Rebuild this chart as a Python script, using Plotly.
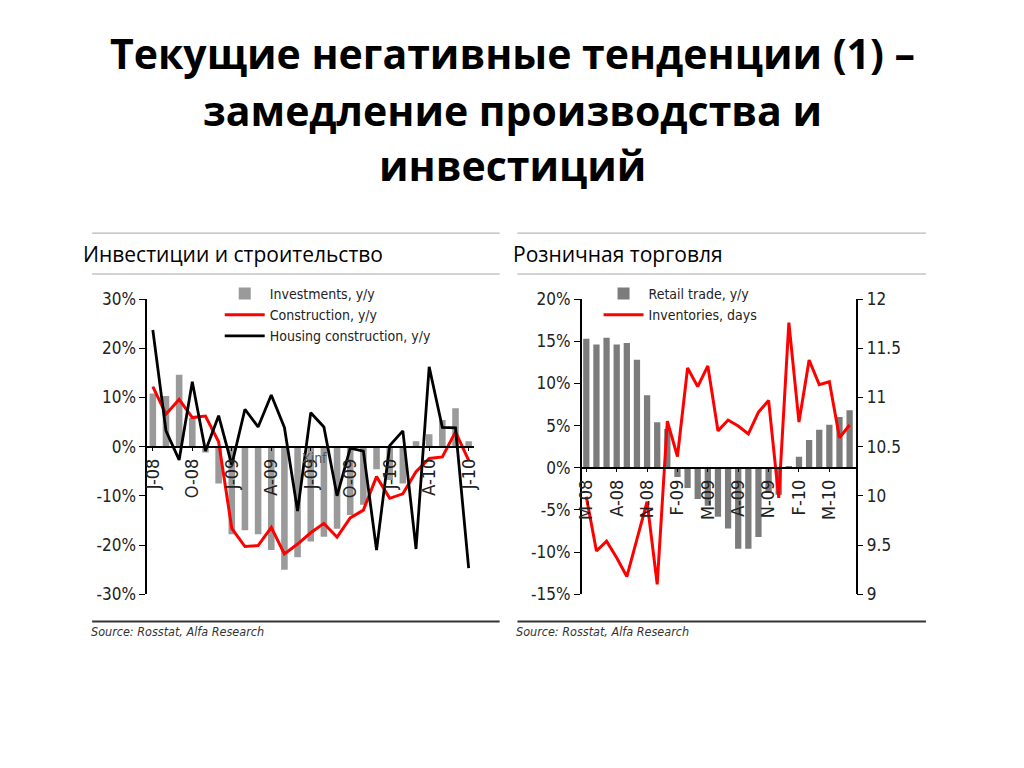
import plotly.graph_objects as go

# ---------------- data ----------------
left_months = ["Jul-08", "Aug-08", "Sep-08", "Oct-08", "Nov-08", "Dec-08",
               "Jan-09", "Feb-09", "Mar-09", "Apr-09", "May-09", "Jun-09",
               "Jul-09", "Aug-09", "Sep-09", "Oct-09", "Nov-09", "Dec-09",
               "Jan-10", "Feb-10", "Mar-10", "Apr-10", "May-10", "Jun-10", "Jul-10"]
investments = [10.8, 10.3, 14.6, 5.8, -1.2, -7.5, -17.8, -17.0, -17.8, -21.0, -25.0, -22.5,
               -19.3, -18.3, -16.7, -13.9, -11.8, -4.6, -6.8, -7.5, 1.1, 2.5, 5.4, 7.8, 1.1]
construction = [12.2, 6.6, 9.6, 5.9, 6.2, 1.0, -16.6, -20.3, -20.1, -16.4, -21.8, -19.8,
                -17.5, -15.6, -18.4, -14.5, -12.9, -6.1, -10.5, -9.6, -5.1, -2.4, -2.1, 3.0, -2.8]
housing = [23.7, 3.2, -2.7, 13.2, -0.9, 6.3, -3.7, 7.6, 4.0, 10.5, 3.9, -13.1,
           6.9, 4.0, -10.0, -0.3, -0.9, -21.0, 0.2, 3.2, -20.8, 16.2, 3.9, 3.8, -24.7]
left_tickvals = ["Jul-08", "Oct-08", "Jan-09", "Apr-09", "Jul-09", "Oct-09", "Jan-10", "Apr-10", "Jul-10"]
left_ticktext = ["J-08", "O-08", "J-09", "A-09", "J-09", "O-09", "J-10", "A-10", "J-10"]
left_yticks = [-30, -20, -10, 0, 10, 20, 30]

right_months = ["May-08", "Jun-08", "Jul-08", "Aug-08", "Sep-08", "Oct-08", "Nov-08", "Dec-08",
                "Jan-09", "Feb-09", "Mar-09", "Apr-09", "May-09", "Jun-09", "Jul-09", "Aug-09",
                "Sep-09", "Oct-09", "Nov-09", "Dec-09", "Jan-10", "Feb-10", "Mar-10", "Apr-10",
                "May-10", "Jun-10", "Jul-10"]
retail = [15.3, 14.6, 15.4, 14.6, 14.8, 12.8, 8.6, 5.4, 4.6, -1.1, -2.4, -3.7, -4.5, -5.8,
          -7.2, -9.6, -9.6, -8.2, -3.0, -3.2, 0.2, 1.3, 3.3, 4.5, 5.1, 6.0, 6.8]
inventories = [9.99, 9.44, 9.54, 9.37, 9.18, 9.55, 9.94, 9.10, 10.76, 10.40, 11.30, 11.11,
               11.32, 10.66, 10.77, 10.71, 10.63, 10.85, 10.97, 9.98, 11.76, 10.75, 11.38,
               11.13, 11.16, 10.59, 10.72]
right_tickvals = ["May-08", "Aug-08", "Nov-08", "Feb-09", "May-09", "Aug-09", "Nov-09", "Feb-10", "May-10"]
right_ticktext = ["M-08", "A-08", "N-08", "F-09", "M-09", "A-09", "N-09", "F-10", "M-10"]
right_yticks = [-15, -10, -5, 0, 5, 10, 15, 20]
right_y2ticks = [9, 9.5, 10, 10.5, 11, 11.5, 12]

title_lines = ["Текущие негативные тенденции (1) –", "замедление производства и", "инвестиций"]
left_header = "Инвестиции и строительство"
right_header = "Розничная торговля"
source_text = "Source: Rosstat, Alfa Research"

# ---------------- layout helpers ----------------
# figure sized so that, with the page's default 8px body margin, the page is 1024x768
OFF = 8
W, H = 1024 - 2 * OFF, 768 - 2 * OFF
def px(x):
    return (x - OFF) / W
def py(y):
    return 1 - (y - OFF) / H

CH_FONT = "Liberation Sans Narrow, Arial Narrow, DejaVu Sans Condensed, Liberation Sans, Arial"
SL_FONT = "Open Sans, Noto Sans, Liberation Sans"

ydom = [py(600), py(296.7)]
lx_dom = [px(141.7), px(473)]
rx_dom = [px(581), px(860)]
left_yrange = [-30, 30]
right_yrange = [-15, 20]
right_y2range = [9, 12]
zero_left = ydom[0] + (0 - left_yrange[0]) / (left_yrange[1] - left_yrange[0]) * (ydom[1] - ydom[0])
zero_right = ydom[0] + (0 - right_yrange[0]) / (right_yrange[1] - right_yrange[0]) * (ydom[1] - ydom[0])

fig = go.Figure()

# left chart
fig.add_trace(go.Bar(x=left_months, y=investments, name="Investments, y/y",
                     marker=dict(color="#9a9a9a", line=dict(width=0)), width=0.5,
                     xaxis="x", yaxis="y", legend="legend"))
fig.add_trace(go.Scatter(x=left_months, y=construction, name="Construction, y/y", mode="lines",
                         line=dict(color="#ff0000", width=3), xaxis="x", yaxis="y", legend="legend"))
fig.add_trace(go.Scatter(x=left_months, y=housing, name="Housing construction, y/y", mode="lines",
                         line=dict(color="#000000", width=2.8), xaxis="x", yaxis="y", legend="legend"))

# right chart
fig.add_trace(go.Bar(x=right_months, y=retail, name="Retail trade, y/y",
                     marker=dict(color="#7c7c7c", line=dict(width=0)), width=0.62,
                     xaxis="x2", yaxis="y3", legend="legend2"))
fig.add_trace(go.Scatter(x=right_months, y=inventories, name="Inventories, days", mode="lines",
                         line=dict(color="#ff0000", width=3), xaxis="x2", yaxis="y4", legend="legend2"))

axis_font = dict(family=CH_FONT, size=17, color="#222222")
xtick_font = dict(family=CH_FONT, size=18, color="#222222")
legend_font = dict(family=CH_FONT, size=14, color="#222222")

fig.update_layout(
    width=W, height=H,
    margin=dict(l=0, r=0, t=0, b=0),
    paper_bgcolor="white", plot_bgcolor="rgba(0,0,0,0)",
    showlegend=True,
    barmode="overlay",
    xaxis=dict(domain=lx_dom, anchor="free", position=zero_left, type="category",
               categoryorder="array", categoryarray=left_months,
               range=[-0.5, 24.4], tickmode="array", tickvals=left_tickvals, ticktext=left_ticktext,
               tickangle=-90, tickfont=xtick_font, showline=True, linecolor="#000000", linewidth=1.5,
               ticks="outside", ticklen=4, tickcolor="#000000", showgrid=False, zeroline=False),
    yaxis=dict(domain=ydom, anchor="free", position=lx_dom[0], range=left_yrange,
               tickmode="array", tickvals=left_yticks,
               ticktext=[f"{v}%" for v in left_yticks], tickfont=axis_font,
               showline=True, linecolor="#000000", linewidth=1.5, ticks="outside", ticklen=6,
               tickcolor="#000000", showgrid=False, zeroline=False),
    xaxis2=dict(domain=rx_dom, anchor="free", position=zero_right, type="category",
                categoryorder="array", categoryarray=right_months,
                range=[-0.55, 26.7], tickmode="array", tickvals=right_tickvals, ticktext=right_ticktext,
                tickangle=-90, tickfont=xtick_font, showline=True, linecolor="#000000", linewidth=1.5,
                ticks="outside", ticklen=4, tickcolor="#000000", showgrid=False, zeroline=False),
    yaxis3=dict(domain=ydom, anchor="free", position=rx_dom[0], range=right_yrange,
                tickmode="array", tickvals=right_yticks,
                ticktext=[f"{v}%" for v in right_yticks], tickfont=axis_font,
                showline=True, linecolor="#000000", linewidth=1.5, ticks="outside", ticklen=6,
                tickcolor="#000000", showgrid=False, zeroline=False),
    yaxis4=dict(domain=ydom, anchor="free", position=rx_dom[1], overlaying="y3", side="right",
                range=right_y2range, tickmode="array", tickvals=right_y2ticks,
                ticktext=[f"{v:g}" for v in right_y2ticks], tickfont=axis_font,
                showline=True, linecolor="#000000", linewidth=1.5, ticks="outside", ticklen=6,
                tickcolor="#000000", showgrid=False, zeroline=False),
    legend=dict(x=px(216), y=py(275), xanchor="left", yanchor="top", bgcolor="rgba(0,0,0,0)",
                font=legend_font, itemwidth=40, tracegroupgap=0, traceorder="normal"),
    legend2=dict(x=px(599), y=py(275), xanchor="left", yanchor="top", bgcolor="rgba(0,0,0,0)",
                 font=legend_font, itemwidth=40, tracegroupgap=0, traceorder="normal"),
)

# title lines
for line, yc in zip(title_lines, [44, 102, 159]):
    fig.add_annotation(text=f"<b>{line}</b>", x=px(512), y=py(yc), xref="paper", yref="paper",
                       xanchor="center", yanchor="middle", showarrow=False,
                       font=dict(family=SL_FONT, size=41, color="#000000"))

# section headers
fig.add_annotation(text=left_header, x=px(76), y=py(250), xref="paper", yref="paper",
                   xanchor="left", yanchor="middle", showarrow=False,
                   font=dict(family=SL_FONT, size=21, color="#000000"))
fig.add_annotation(text=right_header, x=px(510), y=py(250), xref="paper", yref="paper",
                   xanchor="left", yanchor="middle", showarrow=False,
                   font=dict(family=SL_FONT, size=21, color="#000000"))

# source notes
for x0 in (84, 514):
    fig.add_annotation(text=f"<i>{source_text}</i>", x=px(x0), y=py(638), xref="paper", yref="paper",
                       xanchor="left", yanchor="middle", showarrow=False,
                       font=dict(family=CH_FONT, size=12.5, color="#333333"))

# stray axis text in the source image
fig.add_annotation(text="Xinf", x=px(297), y=py(460), xref="paper", yref="paper",
                   xanchor="left", yanchor="middle", showarrow=False,
                   font=dict(family=CH_FONT, size=14, color="#555555"))

# separator lines
shapes = []
for (x0, x1) in ((87, 499), (517, 930)):
    for yy in (229, 271):
        shapes.append(dict(type="line", xref="paper", yref="paper", x0=px(x0), x1=px(x1),
                           y0=py(yy), y1=py(yy), line=dict(color="#a6a6a6", width=1)))
    shapes.append(dict(type="line", xref="paper", yref="paper", x0=px(x0), x1=px(x1),
                       y0=py(628), y1=py(628), line=dict(color="#333333", width=2)))
fig.update_layout(shapes=shapes)

fig.write_html("out.html", config={"displayModeBar": False})
